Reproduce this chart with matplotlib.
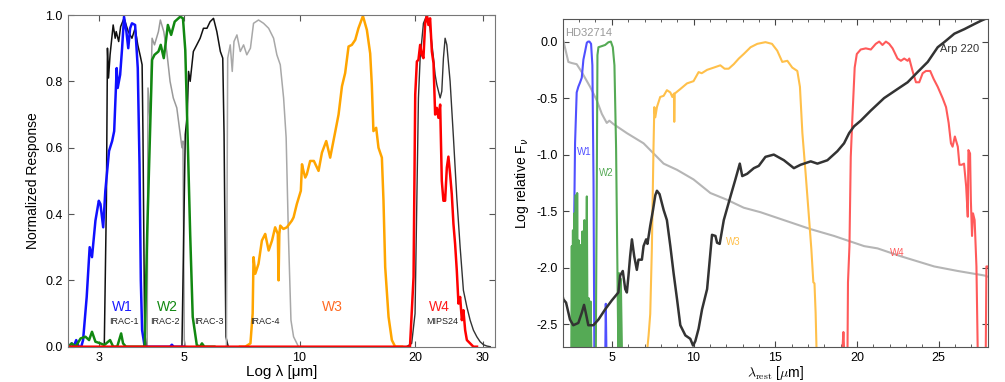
import matplotlib
matplotlib.use('Agg')
import matplotlib.pyplot as plt
from matplotlib.ticker import MultipleLocator, NullLocator, FixedLocator, FixedFormatter

plt.rcParams['font.family'] = ['Liberation Sans', 'DejaVu Sans']
plt.rcParams['axes.unicode_minus'] = False

# ---- left panel: filter response curves (wavelength in micron, normalized response)
w1_lam = [2.50, 2.55, 2.58, 2.62, 2.66, 2.70, 2.73, 2.79, 2.84, 2.88, 2.94, 3.00, 3.03, 3.08, 3.12,
          3.19, 3.25, 3.29, 3.34, 3.36, 3.41, 3.45, 3.49, 3.54, 3.58, 3.62, 3.66, 3.73, 3.79, 3.83,
          3.86, 3.89, 3.95, 4.60, 4.65, 4.70, 5.0]
w1_resp = [0.0, 0.01, 0.0, 0.02, 0.0, 0.0, 0.02, 0.15, 0.30, 0.27, 0.38, 0.44, 0.43, 0.36, 0.47,
           0.59, 0.62, 0.65, 0.84, 0.78, 0.82, 0.90, 0.995, 0.95, 0.90, 0.96, 0.975, 0.97, 0.84, 0.55,
           0.20, 0.05, 0.0, 0.0, 0.006, 0.0, 0.0]

w2_lam = [2.50, 2.55, 2.61, 2.69, 2.77, 2.83, 2.88, 2.94, 3.03, 3.10, 3.21, 3.27, 3.35, 3.43, 3.47,
          3.53, 3.62, 3.80, 3.95, 4.01, 4.13, 4.19, 4.29, 4.35, 4.43, 4.54, 4.63, 4.73, 4.89, 4.97,
          5.04, 5.11, 5.19, 5.27, 5.40, 5.50, 5.57, 5.65, 6.0]
w2_resp = [0.0, 0.01, 0.0, 0.025, 0.03, 0.02, 0.045, 0.015, 0.01, 0.005, 0.02, 0.0, 0.0, 0.04, 0.01,
           0.0, 0.0, 0.0, 0.0, 0.34, 0.865, 0.88, 0.89, 0.91, 0.87, 0.97, 0.94, 0.98, 0.995, 0.99,
           0.894, 0.64, 0.34, 0.09, 0.005, 0.0, 0.01, 0.0, 0.0]

w3_lam = [7.0, 7.22, 7.45, 7.55, 7.59, 7.67, 7.82, 7.98, 8.06, 8.14, 8.31, 8.48, 8.64, 8.78, 8.82,
          8.86, 8.91, 9.08, 9.27, 9.55, 9.65, 9.84, 10.08, 10.15, 10.24, 10.35, 10.45, 10.66, 10.9,
          11.21, 11.44, 11.74, 12.02, 12.39, 12.64, 12.90, 13.15, 13.42, 13.69, 13.97, 14.24, 14.63,
          14.98, 15.28, 15.43, 15.58, 15.84, 16.06, 16.39, 16.55, 16.72, 17.06, 17.40, 17.75, 18.5]
w3_resp = [0.0, 0.0, 0.01, 0.1, 0.27, 0.22, 0.25, 0.32, 0.33, 0.34, 0.29, 0.32, 0.36, 0.34, 0.20,
           0.34, 0.365, 0.355, 0.36, 0.38, 0.39, 0.43, 0.47, 0.55, 0.53, 0.51, 0.52, 0.56, 0.56,
           0.53, 0.585, 0.62, 0.57, 0.648, 0.70, 0.785, 0.825, 0.905, 0.91, 0.925, 0.96, 0.997,
           0.955, 0.884, 0.79, 0.65, 0.66, 0.60, 0.57, 0.44, 0.24, 0.09, 0.02, 0.0, 0.0]

w4_lam = [2.5, 19.4, 19.82, 20.02, 20.22, 20.41, 20.62, 20.83, 21.03, 21.25, 21.47, 21.67, 21.89,
          22.12, 22.34, 22.56, 22.79, 23.01, 23.25, 23.48, 23.71, 23.95, 24.20, 24.43, 24.68, 24.93,
          25.18, 25.43, 25.69, 25.95, 26.21, 26.48, 26.73, 27.01, 27.29, 27.83, 28.38, 29.0]
w4_resp = [0.0, 0.0, 0.21, 0.76, 0.86, 0.865, 0.91, 0.88, 0.87, 0.975, 1.0, 0.97, 0.99,
           0.89, 0.855, 0.70, 0.72, 0.69, 0.73, 0.50, 0.44, 0.44, 0.54, 0.573, 0.52, 0.46,
           0.37, 0.31, 0.23, 0.13, 0.15, 0.08, 0.11, 0.05, 0.02, 0.01, 0.0, 0.0]

irac1_lam = [3.05, 3.10, 3.14, 3.16, 3.18, 3.21, 3.27, 3.31, 3.33, 3.38, 3.42, 3.49, 3.58, 3.66,
             3.73, 3.79, 3.85, 3.89, 3.91, 3.95, 4.00]
irac1_resp = [0.0, 0.0, 0.44, 0.90, 0.81, 0.88, 0.97, 0.93, 0.95, 0.92, 0.965, 0.99, 0.95, 0.93,
              0.96, 0.91, 0.875, 0.85, 0.64, 0.04, 0.0]

irac2_lam = [3.98, 4.01, 4.03, 4.08, 4.13, 4.19, 4.29, 4.34, 4.43, 4.51, 4.60, 4.69, 4.79, 4.89,
             4.94, 4.97, 5.01, 5.05, 5.10]
irac2_resp = [0.0, 0.0, 0.78, 0.68, 0.93, 0.91, 0.95, 0.985, 0.95, 0.89, 0.80, 0.75, 0.72, 0.64,
              0.60, 0.62, 0.02, 0.0, 0.0]

irac3_lam = [4.90, 4.94, 5.04, 5.10, 5.14, 5.19, 5.29, 5.40, 5.51, 5.62, 5.74, 5.85, 5.97, 6.09,
             6.22, 6.31, 6.36, 6.43, 6.52]
irac3_resp = [0.0, 0.0, 0.64, 0.70, 0.83, 0.80, 0.89, 0.91, 0.93, 0.96, 0.96, 0.98, 0.99, 0.95,
              0.89, 0.87, 0.64, 0.03, 0.0]

irac4_lam = [6.40, 6.45, 6.50, 6.60, 6.68, 6.75, 6.87, 7.01, 7.15, 7.29, 7.45, 7.59, 7.82, 8.06,
             8.31, 8.56, 8.73, 8.91, 9.09, 9.23, 9.36, 9.50, 9.65, 9.94, 10.2]
irac4_resp = [0.0, 0.0, 0.87, 0.91, 0.83, 0.92, 0.94, 0.89, 0.91, 0.88, 0.90, 0.975, 0.985, 0.975,
              0.96, 0.93, 0.88, 0.85, 0.75, 0.63, 0.33, 0.08, 0.03, 0.0, 0.0]

mips_lam = [19.0, 19.6, 20.0, 20.22, 20.41, 20.62, 21.03, 21.47, 21.89, 22.34, 22.56, 22.79, 23.25,
            23.48, 23.71, 23.95, 24.20, 24.68, 25.18, 25.69, 26.21, 26.73, 27.29, 27.83, 28.38,
            28.97, 29.55, 30.14, 30.76, 31.4]
mips_resp = [0.0, 0.01, 0.1, 0.45, 0.75, 0.87, 0.975, 1.0, 0.96, 0.87, 0.82, 0.79, 0.75,
             0.77, 0.87, 0.93, 0.91, 0.80, 0.63, 0.45, 0.30, 0.17, 0.12, 0.08, 0.05,
             0.03, 0.015, 0.006, 0.002, 0.0]

left_xticks = [3, 5, 10, 20, 30]

# ---- right panel: spectra and WISE bands (rest wavelength in micron, log relative F_nu)
hd_x = [2.0, 2.03, 2.34, 2.55, 2.85, 3.16, 3.67, 4.08, 4.39, 4.69, 4.85, 5.10, 5.92, 6.94, 7.76,
        8.17, 8.99, 10.0, 11.03, 12.05, 13.07, 14.1, 15.53, 17.17, 18.6, 19.62, 20.44, 21.26,
        22.69, 24.73, 26.17, 27.8, 28.0]
hd_y = [0.0, 0.01, -0.18, -0.19, -0.20, -0.27, -0.40, -0.52, -0.64, -0.72, -0.70, -0.73, -0.81,
        -0.90, -1.02, -1.08, -1.135, -1.22, -1.34, -1.40, -1.47, -1.51, -1.58, -1.66, -1.72,
        -1.77, -1.81, -1.83, -1.90, -1.99, -2.03, -2.07, -2.08]

arp_x = [2.0, 2.03, 2.2, 2.44, 2.64, 2.95, 3.16, 3.30, 3.42, 3.56, 3.87, 4.18, 4.59, 5.0, 5.4,
         5.51, 5.67, 5.82, 5.92, 6.02, 6.12, 6.23, 6.37, 6.53, 6.63, 6.84, 6.94, 7.1, 7.18, 7.35,
         7.52, 7.66, 7.76, 7.92, 8.17, 8.37, 8.58, 8.78, 8.99, 9.19, 9.5, 9.8, 9.97, 10.11, 10.31,
         10.52, 10.83, 11.03, 11.13, 11.34, 11.44, 11.60, 11.85, 12.26, 12.56, 12.83, 12.98, 13.28,
         13.69, 13.99, 14.40, 14.91, 15.53, 16.14, 16.55, 17.17, 17.58, 18.19, 18.8, 19.21, 19.52,
         19.82, 20.23, 20.85, 21.66, 22.48, 23.1, 23.71, 24.33, 24.94, 25.34, 25.96, 26.57, 27.18,
         27.6, 28.0]
arp_y = [-2.26, -2.28, -2.31, -2.46, -2.51, -2.49, -2.40, -2.33, -2.41, -2.51, -2.51, -2.46, -2.37,
         -2.29, -2.22, -2.07, -2.03, -2.19, -2.22, -2.07, -1.90, -1.75, -1.90, -2.02, -1.93, -1.93,
         -1.81, -1.75, -1.79, -1.63, -1.49, -1.36, -1.32, -1.35, -1.49, -1.58, -1.81, -2.05, -2.28,
         -2.51, -2.60, -2.63, -2.69, -2.65, -2.54, -2.37, -2.19, -1.87, -1.71, -1.72, -1.78, -1.79,
         -1.58, -1.37, -1.22, -1.08, -1.19, -1.17, -1.12, -1.10, -1.02, -1.00, -1.05, -1.12, -1.09,
         -1.06, -1.08, -1.05, -0.97, -0.90, -0.81, -0.75, -0.70, -0.61, -0.50, -0.42, -0.36, -0.27,
         -0.18, -0.05, -0.005, 0.07, 0.11, 0.155, 0.185, 0.21]

rw1_x = [2.58, 2.65, 2.69, 2.75, 2.85, 2.95, 3.06, 3.16, 3.26, 3.36, 3.47, 3.55, 3.63, 3.73, 3.81,
         3.88, 3.93, 4.60, 4.63, 4.67]
rw1_y = [-2.75, -2.68, -1.66, -0.90, -0.45, -0.40, -0.36, -0.32, -0.16, -0.09, -0.01, 0.0, 0.0,
         -0.02, -0.21, -1.24, -2.75, -2.75, -2.32, -2.75]

rw2_x = [2.52, 2.55, 2.58, 2.62, 2.66, 2.70, 2.74, 2.79, 2.84, 2.88, 2.93, 2.98, 3.03, 3.08, 3.14,
         3.20, 3.26, 3.32, 3.38, 3.44, 3.47, 3.52, 3.58, 3.64, 3.70, 3.75, 4.02, 4.08, 4.12, 4.18,
         4.39, 4.59, 4.79, 4.94, 5.06, 5.16, 5.26, 5.35, 5.40, 5.45, 5.50, 5.55, 5.62, 5.68]
rw2_y = [-2.75, -1.81, -2.75, -1.67, -2.75, -1.52, -2.75, -1.36, -2.75, -1.34, -2.75, -1.76, -2.75,
         -1.80, -2.75, -1.68, -2.75, -1.58, -2.75, -1.88, -1.37, -2.75, -2.27, -2.75, -2.30, -2.75,
         -2.75, -1.24, -0.12, -0.05, -0.04, -0.03, -0.006, 0.0, -0.05, -0.21, -0.94, -2.12, -2.75,
         -2.05, -2.75, -2.10, -2.75, -2.75]

rw3_x = [7.15, 7.25, 7.35, 7.45, 7.55, 7.60, 7.66, 7.76, 7.96, 8.17, 8.37, 8.58, 8.70, 8.80, 8.82,
         8.85, 9.19, 9.6, 10.0, 10.31, 10.5, 10.83, 11.24, 11.64, 11.9, 12.15, 12.46, 12.77, 13.07,
         13.49, 13.9, 14.4, 14.8, 15.12, 15.43, 15.74, 16.04, 16.35, 16.51, 16.66, 16.86, 17.06,
         17.21, 17.33, 17.40, 17.47, 17.53]
rw3_y = [-2.75, -2.60, -2.41, -1.83, -0.94, -0.58, -0.67, -0.58, -0.49, -0.48, -0.43, -0.45, -0.49,
         -0.46, -0.71, -0.46, -0.42, -0.37, -0.35, -0.27, -0.28, -0.25, -0.23, -0.21, -0.24, -0.24,
         -0.20, -0.15, -0.11, -0.05, -0.02, -0.005, -0.02, -0.08, -0.18, -0.17, -0.23, -0.26, -0.40,
         -0.81, -1.17, -1.55, -1.84, -2.13, -2.14, -2.40, -2.75]

rw4_x = [19.10, 19.17, 19.22, 19.42, 19.45, 19.54, 19.62, 19.72, 19.86, 19.99, 20.23, 20.54, 20.85,
         21.15, 21.36, 21.56, 21.77, 21.97, 22.18, 22.48, 22.69, 22.89, 23.1, 23.2, 23.4, 23.61,
         23.81, 24.02, 24.22, 24.48, 24.69, 24.94, 25.24, 25.45, 25.61, 25.75, 25.85, 25.99, 26.17,
         26.27, 26.41, 26.55, 26.68, 26.78, 26.82, 26.92, 26.97, 27.04, 27.1, 27.2, 27.31, 27.39,
         27.88, 27.92, 28.0]
rw4_y = [-2.75, -2.57, -2.75, -2.75, -2.13, -1.81, -1.02, -0.67, -0.23, -0.11, -0.07, -0.06, -0.07,
         -0.02, 0.0, -0.03, 0.0, -0.02, -0.06, -0.15, -0.17, -0.15, -0.17, -0.15, -0.26, -0.36,
         -0.36, -0.28, -0.26, -0.26, -0.33, -0.40, -0.50, -0.58, -0.72, -0.90, -0.93, -0.84, -0.93,
         -1.09, -1.09, -1.08, -1.28, -1.55, -0.96, -0.99, -1.41, -1.72, -1.52, -1.58, -1.99, -2.75,
         -2.75, -1.99, -1.99]


fig = plt.figure(figsize=(10.05, 3.82), dpi=100)
ax1 = fig.add_axes([0.0674, 0.0924, 0.4251, 0.8683])
ax2 = fig.add_axes([0.5600, 0.0924, 0.4228, 0.8579])

# left panel
ax1.plot(irac1_lam, irac1_resp, color='#111111', lw=1.1)
ax1.plot(irac2_lam, irac2_resp, color='#9a9a9a', lw=1.1)
ax1.plot(irac3_lam, irac3_resp, color='#111111', lw=1.1)
ax1.plot(irac4_lam, irac4_resp, color='#a8a8a8', lw=1.1)
ax1.plot(mips_lam, mips_resp, color='#333333', lw=1.0)
ax1.plot(w1_lam, w1_resp, color='#1010ff', lw=1.8)
ax1.plot(w2_lam, w2_resp, color='#118811', lw=1.8)
ax1.plot(w3_lam, w3_resp, color='#ffa500', lw=1.8)
ax1.plot(w4_lam, w4_resp, color='#ff0000', lw=1.8)

ax1.set_xscale('log')
ax1.set_xlim(2.49, 32.3)
ax1.set_ylim(0, 1.0)
ax1.xaxis.set_major_locator(FixedLocator(left_xticks))
ax1.xaxis.set_major_formatter(FixedFormatter([str(t) for t in left_xticks]))
ax1.xaxis.set_minor_locator(NullLocator())
ax1.yaxis.set_major_locator(MultipleLocator(0.2))
ax1.tick_params(direction='in', top=True, right=True, labelsize=9, length=4, color='#555555')
ax1.set_xlabel('Log λ [μm]', fontsize=11, labelpad=1)
ax1.set_ylabel('Normalized Response', fontsize=10)
for s in ax1.spines.values():
    s.set_color('#777777')

ax1.text(3.45, 0.12, 'W1', color='#1a1aff', fontsize=10, ha='center', va='center')
ax1.text(4.54, 0.12, 'W2', color='#118811', fontsize=10, ha='center', va='center')
ax1.text(12.15, 0.12, 'W3', color='#ff6a22', fontsize=10, ha='center', va='center')
ax1.text(23.1, 0.12, 'W4', color='#ff1a1a', fontsize=10, ha='center', va='center')
ax1.text(3.48, 0.075, 'IRAC-1', color='#222222', fontsize=6.5, ha='center', va='center')
ax1.text(4.47, 0.075, 'IRAC-2', color='#222222', fontsize=6.5, ha='center', va='center')
ax1.text(5.82, 0.075, 'IRAC-3', color='#222222', fontsize=6.5, ha='center', va='center')
ax1.text(8.14, 0.075, 'IRAC-4', color='#222222', fontsize=6.5, ha='center', va='center')
ax1.text(23.6, 0.075, 'MIPS24', color='#222222', fontsize=6.5, ha='center', va='center')

# right panel
ax2.plot(hd_x, hd_y, color='#b5b5b5', lw=1.5)
ax2.plot(rw1_x, rw1_y, color='#5050ff', lw=1.5)
ax2.plot(rw2_x, rw2_y, color='#55aa55', lw=1.5)
ax2.plot(rw3_x, rw3_y, color='#ffc04a', lw=1.5)
ax2.plot(rw4_x, rw4_y, color='#ff5a5a', lw=1.5)
ax2.plot(arp_x, arp_y, color='#333333', lw=1.8)

ax2.set_xlim(2, 28)
ax2.set_ylim(-2.7, 0.2)
ax2.xaxis.set_major_locator(MultipleLocator(5))
ax2.xaxis.set_minor_locator(MultipleLocator(1))
ax2.yaxis.set_major_locator(MultipleLocator(0.5))
ax2.yaxis.set_major_formatter(plt.FormatStrFormatter('%.1f'))
ax2.tick_params(which='both', direction='in', top=True, right=True, labelsize=9, color='#444444')
ax2.tick_params(which='major', length=4)
ax2.tick_params(which='minor', length=2)
ax2.set_xlabel(r'$\lambda_{\rm rest}$ [$\mu$m]', fontsize=10, math_fontfamily='cm', labelpad=0)
ax2.set_ylabel(r'Log relative F$_\nu$', fontsize=10)
for s in ax2.spines.values():
    s.set_color('#555555')

ax2.text(3.57, 0.08, 'HD32714', color='#999999', fontsize=8, ha='center', va='center')
ax2.text(26.3, -0.07, 'Arp 220', color='#333333', fontsize=8, ha='center', va='center')
ax2.text(3.30, -0.975, 'W1', color='#5050ff', fontsize=7, ha='center', va='center')
ax2.text(4.69, -1.165, 'W2', color='#55aa55', fontsize=7, ha='center', va='center')
ax2.text(12.46, -1.77, 'W3', color='#ffc04a', fontsize=7, ha='center', va='center')
ax2.text(22.48, -1.875, 'W4', color='#ff5a5a', fontsize=7, ha='center', va='center')

fig.savefig('out.png', dpi=100)
